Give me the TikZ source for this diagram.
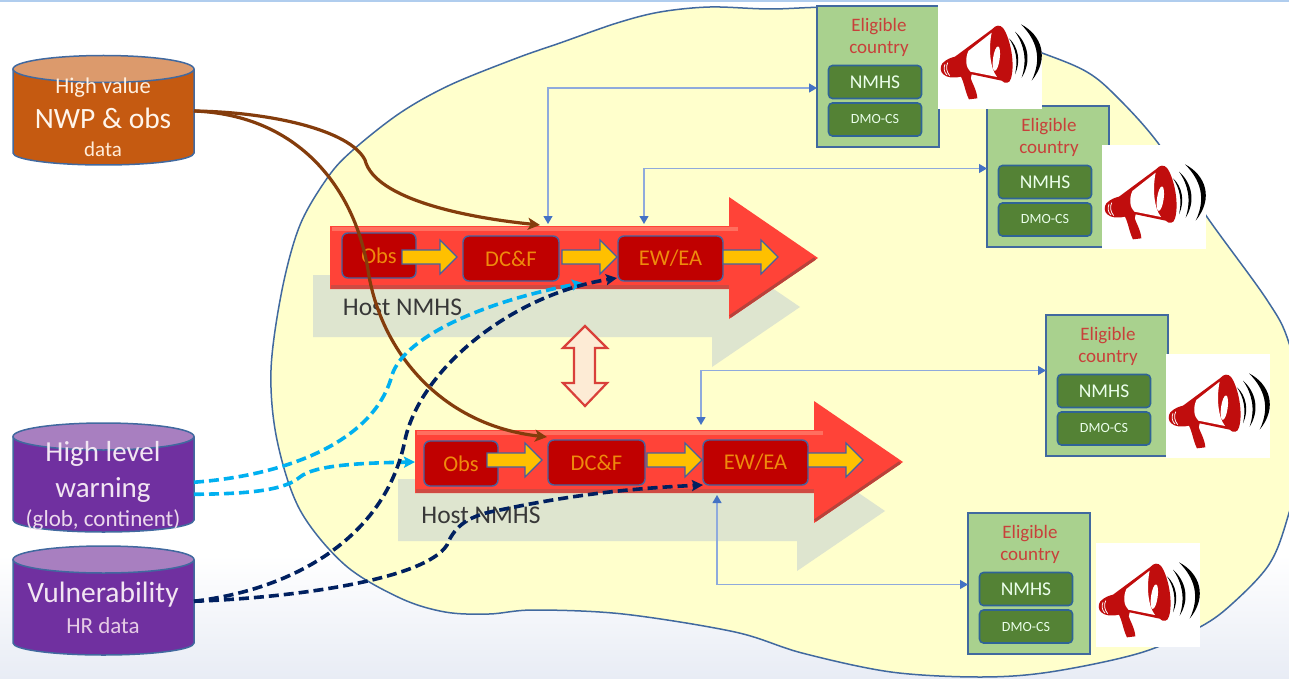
\documentclass[tikz,border=0pt]{standalone}
\usepackage{fontspec}
\setmainfont{Carlito}
\usetikzlibrary{arrows.meta,calc}
\definecolor{blobfill}{HTML}{FFFFCC}
\definecolor{blobline}{HTML}{41699F}
\definecolor{shadowc}{HTML}{DEE5CF}
\definecolor{redarrow}{HTML}{FF4338}
\definecolor{redlight}{HTML}{FF6F5F}
\definecolor{reddark}{HTML}{CF4A42}
\definecolor{rededge}{HTML}{B8423A}
\definecolor{boxred}{HTML}{C00000}
\definecolor{boxline}{HTML}{44629F}
\definecolor{amber}{HTML}{FFC000}
\definecolor{boxtext}{HTML}{EE8A0C}
\definecolor{greenbox}{HTML}{A9D18E}
\definecolor{greenin}{HTML}{548235}
\definecolor{greenline}{HTML}{2F6496}
\definecolor{titlered}{HTML}{C8403A}
\definecolor{brownc}{HTML}{843C0C}
\definecolor{skyc}{HTML}{00B0F0}
\definecolor{navyc}{HTML}{002060}
\definecolor{thinline}{HTML}{8FAADC}
\definecolor{thintip}{HTML}{4472C4}
\definecolor{megared}{HTML}{C00D0D}
\definecolor{orangebody}{HTML}{C55A11}
\definecolor{orangetop}{HTML}{DC9A6C}
\definecolor{purplebody}{HTML}{7030A0}
\definecolor{purpletop}{HTML}{A87FC0}
\definecolor{bgbottom}{HTML}{E8ECF5}
\definecolor{topline}{HTML}{B0CDEE}
\definecolor{swapfill}{HTML}{FDEBD5}
\definecolor{swapline}{HTML}{D9403A}
\tikzset{
  x=1pt,y=-1pt,
  txt/.style={font=\fontsize{#1}{#1}\selectfont,inner sep=0pt,outer sep=0pt},
  storenode/.style={minimum width=181pt,minimum height=#1,inner sep=0pt,outer sep=0pt},
  procbox/.style={draw=boxline,fill=boxred,rounded corners=6pt,line width=1.4pt,inner sep=0pt,outer sep=0pt,
    text=boxtext,font=\fontsize{22.5}{22.5}\selectfont},
  inbox/.style={draw=greenline,fill=greenin,rounded corners=4pt,line width=1.6pt,minimum width=93pt,minimum height=33pt,
    inner sep=0pt,outer sep=0pt,text=white!92!green},
  thin link/.style={draw=thinline,line width=1.2pt,{Triangle[length=8pt,width=9pt,color=thintip]}-{Triangle[length=8pt,width=9pt,color=thintip]}},
  brown link/.style={draw=brownc,line width=3.2pt,-{Stealth[length=12pt,width=12pt,inset=3pt]}},
  sky link/.style={draw=skyc,line width=3.6pt,dash pattern=on 10pt off 5pt,-{Stealth[length=11pt,width=11pt,inset=2pt]}},
  navy link/.style={draw=navyc,line width=3.6pt,dash pattern=on 10pt off 5pt,-{Stealth[length=11pt,width=11pt,inset=2pt]}},
  hostarrow/.pic={
    \fill[shadowc] (313,275)--(712,275)--(712,247)--(800,307)--(712,367)--(712,337)--(313,337)--cycle;
    \fill[redarrow] (330,226)--(729,226)--(729,197)--(818,258)--(729,319)--(729,289)--(330,289)--cycle;
    \draw[reddark,line width=4pt] (331,287)--(729,287);
    \draw[rededge,line width=3pt] (730,316.5)--(815,258.5);
    \draw[redlight,line width=4pt] (332,229)--(738,229);
  },
  yellowarrow/.pic={
    \draw[draw=boxline,fill=amber,line width=1.1pt] (0,-7)--(38,-7)--(38,-17)--(55,0)--(38,17)--(38,7)--(0,7)--cycle;
  },
  megaphone/.pic={
    \fill[white] (0,0) rectangle (104,104);
    \begin{scope}[scale=1/3,shift={(-9,30)}]
      \fill[megared] (22,145) .. controls (35,132) and (48,128) .. (60,125)
        -- (172,42) .. controls (182,30) and (195,28) .. (205,40)
        .. controls (228,75) and (240,150) .. (228,190) .. controls (225,205) and (210,208) .. (200,197)
        -- (110,178) -- (107,190) .. controls (112,205) and (125,225) .. (127,250)
        -- (102,253) .. controls (92,235) and (88,205) .. (78,185)
        .. controls (55,190) and (35,188) .. (25,178) .. controls (15,170) and (15,155) .. (22,145) -- cycle;
      \fill[white] (170,53) -- (100,108) .. controls (90,130) and (92,158) .. (106,170) -- (186,186)
        .. controls (165,160) and (160,100) .. (170,53) -- cycle;
      \fill[white,rotate around={-8:(184,131)}] (184,131) ellipse (10 and 37);
      \draw[white,line width=.8pt] (30,148) .. controls (25,158) and (27,172) .. (36,180);
      \draw[white,line width=.8pt] (38,143) .. controls (32,155) and (34,170) .. (44,182);
      \fill[black] (222,70) .. controls (250,95) and (258,140) .. (240,178) .. controls (250,135) and (242,100) .. (222,70) -- cycle;
      \fill[black] (240,50) .. controls (280,85) and (290,140) .. (260,188) .. controls (277,135) and (268,90) .. (240,50) -- cycle;
      \fill[black] (258,28) .. controls (320,60) and (345,130) .. (290,197) .. controls (322,130) and (305,75) .. (258,28) -- cycle;
    \end{scope}
  }
}
% name, top ellipse centre y, bottom ellipse centre y, body colour, end colour, height
\newcommand{\datastore}[6]{%
  \fill[#4] (13,#2) -- (13,#3) arc[start angle=180,end angle=360,x radius=90.5pt,y radius=12pt]
     -- (194,#2) arc[start angle=0,end angle=180,x radius=90.5pt,y radius=13.5pt] -- cycle;
  \draw[blobline,line width=1.5pt] (13,#2) -- (13,#3) arc[start angle=180,end angle=360,x radius=90.5pt,y radius=12pt] -- (194,#2);
  \draw[blobline,fill=#5,line width=1.5pt] (103.5,#2) ellipse[x radius=90.5pt,y radius=13.5pt];
  \path (13,#2) ++(90.5,{(#3-#2)/2}) node[storenode=#6] (#1) {};}
\newcommand{\countrybox}[3]{%
  \begin{scope}[shift={(#2,#3)}]
    \node[draw=blobline,fill=greenbox,line width=1.8pt,minimum width=122pt,minimum height=141pt,inner sep=0pt,outer sep=0pt] (#1) at (61,70.5) {};
    \node[txt=19,text=titlered] (#1a) at (62,21) {Eligible};
    \node[txt=19,text=titlered] (#1b) at (62,43) {country};
    \node[inbox,font=\fontsize{19.5}{19.5}\selectfont] (#1n) at (58,76) {NMHS};
    \node[inbox,font=\fontsize{14}{14}\selectfont] (#1d) at (58,113.5) {DMO-CS};
  \end{scope}}
\begin{document}
\begin{tikzpicture}
\useasboundingbox (0,0) rectangle (1289,679);
\clip (0,0) rectangle (1289,679);
% background
\fill[white] (0,0) rectangle (1289,679);
\shade[top color=white,bottom color=bgbottom] (0,555) rectangle (1289,679);
\fill[topline] (0,0) rectangle (1289,2.2);
% region
\draw[fill=blobfill,draw=blobline,line width=1.5pt] plot[smooth cycle,tension=0.55] coordinates {
 (271,370) (282,290) (300,225) (328,177) (353,150) (400,113) (450,85) (517,58) (560,43) (617,23) (660,12) (710,7) (770,9) (850,8)
 (960,25) (1042,53) (1087,72) (1117,97) (1158,143) (1207,217) (1267,300) (1289,343) (1310,430) (1289,513) (1270,563) (1233,603) (1200,627) (1140,653)
 (1050,672) (980,677) (891,672) (802,653) (735,632) (623,614) (534,610) (489,614) (445,612) (400,598) (345,565) (300,510) (277,440)};
% host arrows
\pic at (0,0) {hostarrow};
\pic at (85,204) {hostarrow};
\node[procbox,minimum width=74pt,minimum height=45pt] (obsa) at (379,255.5) {Obs};
\node[procbox,minimum width=96pt,minimum height=45pt] (dcfa) at (511,258.5) {DC\&F};
\node[procbox,minimum width=105pt,minimum height=45pt] (ewa) at (670.5,258.5) {EW/EA};
\node[procbox,minimum width=74pt,minimum height=45pt] (obsb) at (461,463.5) {Obs};
\node[procbox,minimum width=97pt,minimum height=45pt] (dcfb) at (596.5,462.5) {DC\&F};
\node[procbox,minimum width=105pt,minimum height=45pt] (ewb) at (755.5,462.5) {EW/EA};
\pic at (402,257) {yellowarrow};
\pic at (562,257) {yellowarrow};
\begin{scope}[shift={(723,257)},xscale=1.05]\pic at (0,0) {yellowarrow};\end{scope}
\pic at (487,460) {yellowarrow};
\pic at (647,460) {yellowarrow};
\begin{scope}[shift={(808,460)},xscale=1.05]\pic at (0,0) {yellowarrow};\end{scope}
\node[txt=25.5,text=black!78] (hosta) at (402.5,307) {Host NMHS};
\node[txt=25.5,text=black!78] (hostb) at (481,515) {Host NMHS};
% exchange arrow
\draw[draw=swapline,fill=swapfill,line width=2.2pt,line join=miter]
  (585,326)--(607,348)--(595,348)--(595,383)--(607,383)--(585,406)--(563,383)--(574,383)--(574,348)--(563,348)--cycle;
% data stores
\datastore{nwp}{69}{153}{orangebody}{orangetop}{110pt}
\datastore{warn}{436.5}{520}{purplebody}{purpletop}{109pt}
\datastore{vuln}{559.5}{643}{purplebody}{purpletop}{109pt}
\node[txt=22.5,text=white!88!orange] (t1) at (103,88) {High value};
\node[txt=29.5,text=white!92!orange] (t2) at (103,118) {NWP \& obs};
\node[txt=21,text=white!85!orange] (t3) at (103,149) {data};
\node[txt=29,text=white!90!violet] (t4) at (103,454) {High level};
\node[txt=29,text=white!90!violet] (t5) at (103,490) {warning};
\node[txt=23,text=white!85!violet] (t6) at (103,520) {(glob, continent)};
\node[txt=29.5,text=white!90!violet] (t7) at (103,595) {Vulnerability};
\node[txt=23,text=white!80!violet] (t8) at (103,626) {HR data};
% tips
\coordinate (tipa) at (540,225);
\coordinate (tipb) at (547,437);
\coordinate (tipc) at (583,283);
\coordinate (tipd) at (617,278);
\coordinate (tipe) at (415,462);
\coordinate (tipf) at (703,485);
\coordinate (upa) at (548,224);
\coordinate (upb) at (644,224);
\coordinate (upc) at (701,425);
\coordinate (upd) at (717,495);
% data links
\draw[brown link] (nwp.east) .. controls (270,112) and (350,130) .. (365,160) .. controls (375,200) and (470,218) .. (tipa);
\draw[brown link] (nwp.east) .. controls (300,115) and (355,190) .. (368,270) .. controls (380,350) and (440,425) .. (tipb);
\draw[sky link] ($(warn.east)+(0,4)$) .. controls (290,475) and (375,440) .. (392,375) .. controls (405,335) and (490,300) .. (tipc);
\draw[sky link] ($(warn.east)+(0,16)$) .. controls (250,494) and (285,490) .. (300,477) .. controls (315,465) and (360,463) .. (tipe);
\draw[navy link] (vuln.east) .. controls (290,590) and (385,540) .. (405,440) .. controls (420,370) and (510,295) .. (tipd);
\draw[navy link] (vuln.east) .. controls (290,598) and (425,580) .. (447,545) .. controls (455,525) and (470,515) .. (500,510) .. controls (580,493) and (640,488) .. (tipf);
% countries
\countrybox{ca}{817}{6}
\countrybox{cb}{987}{106}
\countrybox{cc}{1046}{315}
\countrybox{cd}{968}{513}
\draw[thin link] ($(ca.west)+(0,11.5)$) -| (upa);
\draw[thin link] ($(cb.west)+(0,-8)$) -| (upb);
\draw[thin link] ($(cc.west)+(0,-15)$) -| (upc);
\draw[thin link] ($(cd.west)+(0,1)$) -| (upd);
% megaphones
\pic at (938,5) {megaphone};
\pic at (1102,145) {megaphone};
\pic at (1166,354) {megaphone};
\pic at (1096,543) {megaphone};
\end{tikzpicture}
\end{document}
